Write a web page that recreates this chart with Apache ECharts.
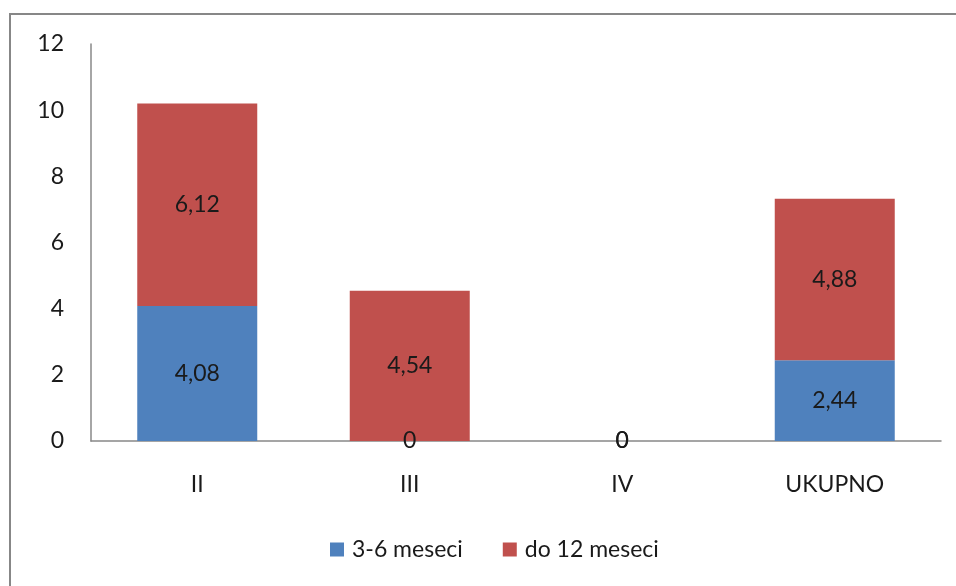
<!DOCTYPE html>
<html><head><meta charset="utf-8">
<script src="https://cdn.jsdelivr.net/npm/echarts@6/dist/echarts.min.js"></script>
<style>html,body{margin:0;padding:0;background:#fff}#c{width:956px;height:586px}</style>
</head><body><div id="c"></div>
<script>
const categories = ['II', 'III', 'IV', 'UKUPNO'];
const seriesNames = ['3-6 meseci', 'do 12 meseci'];
const values36 = [4.08, 0, 0, 2.44];
const values12 = [6.12, 4.54, 0, 4.88];
const yTicks = [0, 2, 4, 6, 8, 10, 12];

const FONT = 'Lato';
const FS = 23;
const fmt = p => String(p.value).replace('.', ',');
const chart = echarts.init(document.getElementById('c'), null, {renderer: 'canvas'});
chart.setOption({
  animation: false,
  textStyle: {fontFamily: FONT},
  graphic: [{type: 'rect', shape: {x: 10, y: 14, width: 980, height: 620}, style: {fill: 'none', stroke: '#878787', lineWidth: 2}, silent: true}],
  grid: {left: 91, right: 15, top: 44, bottom: 145},
  legend: {
    bottom: 20, left: 325, itemWidth: 14, itemHeight: 14, itemGap: 40,
    icon: 'rect',
    textStyle: {fontSize: FS, color: '#1a1a1a', fontFamily: FONT, padding: [0, 0, 0, 3]},
    data: seriesNames
  },
  xAxis: {
    type: 'category', data: categories,
    axisLine: {lineStyle: {color: '#888', width: 1.5}},
    axisTick: {show: false},
    axisLabel: {fontSize: FS, color: '#1a1a1a', margin: 32, fontFamily: FONT}
  },
  yAxis: {
    type: 'value', min: yTicks[0], max: yTicks[yTicks.length - 1], interval: 2,
    axisLine: {show: true, lineStyle: {color: '#888', width: 1.5}},
    axisTick: {show: false},
    splitLine: {show: false},
    axisLabel: {fontSize: FS, color: '#1a1a1a', margin: 27, fontFamily: FONT}
  },
  series: [
    {name: seriesNames[0], type: 'bar', stack: 's', data: values36, barWidth: 120,
     itemStyle: {color: '#4F81BD'},
     label: {show: true, position: 'inside', formatter: fmt, fontSize: FS, color: '#1a1a1a', fontFamily: FONT}},
    {name: seriesNames[1], type: 'bar', stack: 's', data: values12, barWidth: 120,
     itemStyle: {color: '#C0504D'},
     label: {show: true, position: 'inside', formatter: fmt, fontSize: FS, color: '#1a1a1a', fontFamily: FONT}}
  ]
});
</script></body></html>
